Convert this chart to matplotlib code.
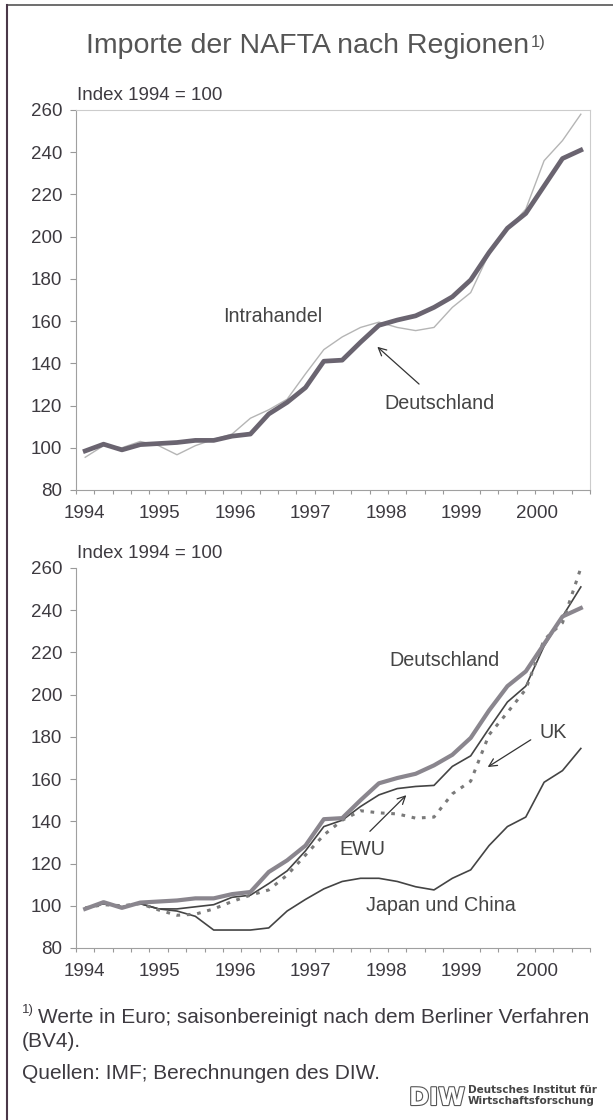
import numpy as np
import matplotlib.pyplot as plt
import matplotlib.patheffects as pe

plt.rcParams['font.family'] = ['Liberation Sans', 'DejaVu Sans']

# quarterly index values, 1994 Q1 .. 2000 Q4 (Index 1994 = 100)
deutschland = [98.5, 101.7, 99, 101.5, 102, 102.5, 103.5, 103.5, 105.5, 106.5, 116, 121.5, 128.5, 141,
               141.5, 150, 158, 160.5, 162.5, 166.5, 171.5, 179.5, 192.5, 204, 211, 224, 237, 241]
intrahandel = [95.5, 101, 100, 103, 101, 96.7, 101, 104, 106.5, 114, 118, 123, 135, 146.5,
               152.5, 157, 159.5, 157, 155.5, 157, 166.5, 173.5, 192, 203.5, 213, 236, 245.5, 258]
ewu = [98.5, 101, 99.5, 101, 98.5, 98.5, 99.5, 100.5, 104, 105, 110.5, 116.5, 126, 137.5,
       140.5, 147, 152.5, 155.5, 156.5, 157, 166, 171, 184, 196.5, 204, 223, 237, 251]
uk = [99, 100.5, 100, 101, 98, 95.5, 96, 98.5, 102, 105, 107.5, 114.5, 124, 133.5,
      140.5, 145, 144, 143.5, 141.5, 142, 153, 159, 181, 191.5, 202.5, 226, 234, 260]
japan_china = [98.5, 101, 99.5, 101, 98.5, 97.5, 95, 88.5, 88.5, 88.5, 89.5, 97.5, 103, 108,
               111.5, 113, 113, 111.5, 109, 107.5, 113, 117, 128.5, 137.5, 142, 158.5, 164, 174.5]
years = ['1994', '1995', '1996', '1997', '1998', '1999', '2000']

x = np.arange(len(deutschland))
year_pos = [-0.05 + 4.11 * k for k in range(len(years))]

txt = '#3d3a40'
W, H = 613, 1120
fig = plt.figure(figsize=(W / 100, H / 100), dpi=100)


def px(xp, yp):
    return xp / W, 1 - yp / H


def style_axes(ax, frame):
    ax.set_xlim(-0.5, len(x) - 0.5)
    ax.set_ylim(80, 260)
    ax.set_yticks(range(80, 261, 20))
    ax.set_xticks(year_pos)
    ax.set_xticklabels(years)
    ax.set_xticks(np.arange(-0.5, len(x)), minor=True)
    ax.tick_params(axis='x', which='major', length=0, pad=11, labelsize=13.5, labelcolor=txt)
    ax.tick_params(axis='x', which='minor', length=3, color='#999999', width=0.8)
    ax.tick_params(axis='y', length=4, color='#999999', width=0.8, pad=6, labelsize=13.5, labelcolor=txt)
    for s in ['left', 'bottom']:
        ax.spines[s].set_color('#a0a0a0')
        ax.spines[s].set_linewidth(0.8)
    for s in ['top', 'right']:
        ax.spines[s].set_visible(frame)
        ax.spines[s].set_color('#cccccc')
        ax.spines[s].set_linewidth(0.8)


# upper panel
ax1 = fig.add_axes([0.124, 0.5625, 0.8385, 0.3393])
ax1.plot(x, intrahandel, color='#b5b5b5', lw=1.0)
ax1.plot(x, deutschland, color='#6a6470', lw=3.4, solid_joinstyle='round')
style_axes(ax1, True)
ax1.text(10.2, 162, 'Intrahandel', fontsize=14.2, color='#444444', ha='center', va='center')
ax1.text(19.3, 121, 'Deutschland', fontsize=14.2, color='#444444', ha='center', va='center')
ax1.annotate('', xy=(15.8, 148.7), xytext=(18.3, 129.3),
             arrowprops=dict(arrowstyle='->', color='#333333', lw=0.9, mutation_scale=14))

# lower panel
ax2 = fig.add_axes([0.124, 0.1536, 0.8385, 0.3393])
ax2.plot(x, japan_china, color='#444444', lw=1.2)
ax2.plot(x, ewu, color='#444444', lw=1.2)
ax2.plot(x, uk, color='#7a7a7a', lw=2.2, linestyle=(0, (1.2, 2.2)))
ax2.plot(x, deutschland, color='#8a868e', lw=3.0, solid_joinstyle='round')
style_axes(ax2, False)
ax2.text(19.6, 216, 'Deutschland', fontsize=14.2, color='#444444', ha='center', va='center')
ax2.text(25.5, 182, 'UK', fontsize=14.2, color='#444444', ha='center', va='center')
ax2.text(15.1, 126.8, 'EWU', fontsize=14.2, color='#444444', ha='center', va='center')
ax2.text(19.4, 100, 'Japan und China', fontsize=14.2, color='#444444', ha='center', va='center')
ax2.annotate('', xy=(21.8, 165), xytext=(24.4, 179.3),
             arrowprops=dict(arrowstyle='->', color='#333333', lw=0.9, mutation_scale=14))
ax2.annotate('', xy=(17.6, 153.3), xytext=(15.4, 134.3),
             arrowprops=dict(arrowstyle='->', color='#333333', lw=0.9, mutation_scale=14))

# index labels
fig.text(*px(77, 100), 'Index 1994 = 100', fontsize=13.5, color=txt, va='baseline')
fig.text(*px(77, 558), 'Index 1994 = 100', fontsize=13.5, color=txt, va='baseline')

# title
t = fig.text(*px(86, 53), 'Importe der NAFTA nach Regionen', fontsize=20.5, color='#555555',
             va='baseline')
fig.add_artist(plt.Annotation('1)', xy=(1, 0), xycoords=t, xytext=(1.5, 8.5), textcoords='offset points',
                              fontsize=12, color='#555555', va='baseline'))

# footnote
fig.text(*px(22, 1013), '1)', fontsize=9.5, color=txt, va='baseline')
fig.text(*px(38, 1023), 'Werte in Euro; saisonbereinigt nach dem Berliner Verfahren',
         fontsize=15, color=txt, va='baseline')
fig.text(*px(22, 1047), '(BV4).', fontsize=15, color=txt, va='baseline')
fig.text(*px(22, 1079), 'Quellen: IMF; Berechnungen des DIW.', fontsize=15, color=txt, va='baseline')

# logo
fig.text(*px(409, 1105), 'DIW', fontsize=17.5, fontweight='bold', color='white', va='baseline',
         family='DejaVu Sans',
         path_effects=[pe.withStroke(linewidth=1.6, foreground='#555555')])
fig.text(*px(468, 1093), 'Deutsches Institut für', fontsize=7.5, fontweight='bold', color='#444444',
         va='baseline', family='DejaVu Sans')
fig.text(*px(468, 1104), 'Wirtschaftsforschung', fontsize=7.5, fontweight='bold', color='#444444',
         va='baseline', family='DejaVu Sans')

# page frame lines
fig.add_artist(plt.Line2D([7 / W, 1], [1 - 5 / H, 1 - 5 / H], color='#555555', lw=1.2))
fig.add_artist(plt.Line2D([7 / W, 7 / W], [0, 1 - 5 / H], color='#4a3848', lw=1.5))

fig.savefig('out.png', dpi=100)
